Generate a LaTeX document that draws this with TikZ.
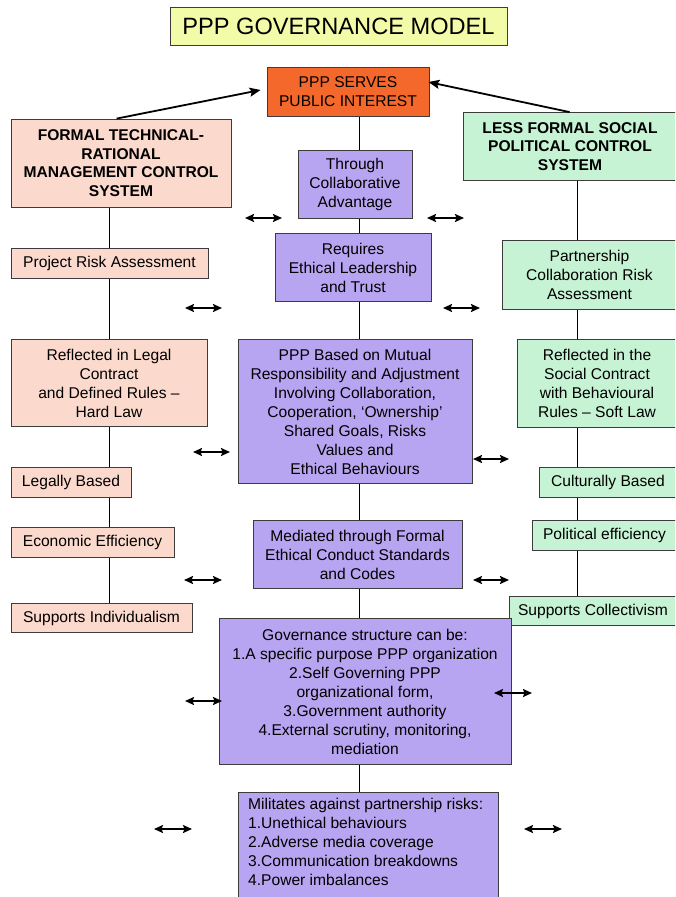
\documentclass[tikz,border=0pt]{standalone}
\usepackage{fontspec}
\setmainfont{Liberation Sans}
\usetikzlibrary{arrows.meta,backgrounds,calc}
\definecolor{ttlyellow}{HTML}{F2FBA8}
\definecolor{orangefill}{HTML}{F4692B}
\definecolor{pinkfill}{HTML}{FBDACD}
\definecolor{greenfill}{HTML}{C6F3D4}
\definecolor{purplefill}{HTML}{B8A5F1}
\definecolor{bordergray}{HTML}{3C3C3C}
\tikzset{
  box/.style={draw=bordergray, line width=0.8pt, inner sep=0pt, align=center,
    font=\fontsize{15.6}{19}\selectfont},
  boldbox/.style={box, font=\fontsize{15.6}{18.5}\selectfont\bfseries},
  pinkbox/.style={box, fill=pinkfill},
  greenbox/.style={box, fill=greenfill},
  purplebox/.style={box, fill=purplefill},
  conn/.style={line width=0.8pt, draw=black},
  dbl/.style={{Stealth[length=9pt,width=8pt,inset=1.5pt]}-{Stealth[length=9pt,width=8pt,inset=1.5pt]}, line width=1.8pt},
  sgl/.style={-{Stealth[length=11pt,width=9pt,inset=2pt]}, line width=1.8pt},
}
\begin{document}
\begin{tikzpicture}[x=1pt,y=-1pt]
\useasboundingbox (0,0) rectangle (675,897);
\clip (0,0) rectangle (675,897);

% title
\node[box, fill=ttlyellow, minimum width=337pt, minimum height=38pt,
  font=\fontsize{23.6}{28}\selectfont] (T) at (338.5,26) {PPP GOVERNANCE MODEL};
\node[box, fill=orangefill, minimum width=162pt, minimum height=49pt] (P) at (348,91.5) {PPP SERVES\\PUBLIC INTEREST};

% left column
\node[boldbox, fill=pinkfill, minimum width=220pt, minimum height=88pt] (L0) at (121,163) {FORMAL TECHNICAL-\\RATIONAL\\MANAGEMENT CONTROL\\SYSTEM};
\node[pinkbox, minimum width=197pt, minimum height=30pt] (L1) at (109.5,263.5) {Project Risk Assessment};
\node[pinkbox, minimum width=196pt, minimum height=87pt] (L2) at (109,383) {Reflected in Legal\\Contract\\and Defined Rules --\\Hard Law};
\node[pinkbox, minimum width=120pt, minimum height=30pt] (L3) at (71,482.5) {Legally Based};
\node[pinkbox, minimum width=163pt, minimum height=30pt] (L4) at (92.5,542.5) {Economic Efficiency};
\node[pinkbox, minimum width=181pt, minimum height=29pt] (L5) at (101.5,618) {Supports Individualism};

% right column
\node[boldbox, fill=greenfill, minimum width=214pt, minimum height=68pt] (R0) at (570,146.5) {LESS FORMAL SOCIAL\\POLITICAL CONTROL\\SYSTEM};
\node[greenbox, minimum width=175pt, minimum height=69pt] (R1) at (589.5,275) {Partnership\\Collaboration Risk\\Assessment};
\node[greenbox, minimum width=160pt, minimum height=88pt] (R2) at (597,383.5) {Reflected in the\\Social Contract\\with Behavioural\\Rules -- Soft Law};
\node[greenbox, minimum width=138pt, minimum height=30pt] (R3) at (608,482.5) {Culturally Based};
\node[greenbox, minimum width=145pt, minimum height=30pt] (R4) at (604.5,535.5) {Political efficiency};
\node[greenbox, minimum width=168pt, minimum height=29pt] (R5) at (593,611) {Supports Collectivism};

% centre column
\node[purplebox, minimum width=114pt, minimum height=68pt] (C1) at (355,184.5) {Through\\Collaborative\\Advantage};
\node[purplebox, minimum width=156pt, minimum height=68pt] (C2) at (353,267.5) {Requires\\Ethical Leadership\\and Trust};
\node[purplebox, minimum width=234pt, minimum height=144pt] (C3) at (355,411.5) {PPP Based on Mutual\\Responsibility and Adjustment\\Involving Collaboration,\\Cooperation, ‘Ownership’\\Shared Goals, Risks\\Values and\\Ethical Behaviours};
\node[purplebox, minimum width=209pt, minimum height=68pt] (C4) at (357.5,554.5) {Mediated through Formal\\Ethical Conduct Standards\\and Codes};
\node[purplebox, minimum width=292pt, minimum height=146pt] (C5) at (365,691.5) {Governance structure can be:\\1.A specific purpose PPP organization\\2.Self Governing PPP\\organizational form,\\3.Government authority\\4.External scrutiny, monitoring,\\mediation};
\node[purplebox, minimum width=260pt, minimum height=130pt, anchor=north west] (C6) at (238,792) {};
\node[inner sep=0pt, align=left, anchor=north west, font=\fontsize{15.6}{19}\selectfont] (C6t) at (248,798) {Militates against partnership risks:\\1.Unethical behaviours\\2.Adverse media coverage\\3.Communication breakdowns\\4.Power imbalances};

% connector lines behind boxes
\coordinate (lx) at (109,0);
\coordinate (rx) at (577,0);
\coordinate (cx) at (359,0);
\begin{scope}[on background layer]
  \fill[white] (0,0) rectangle (675,897);
  \draw[conn] (L0.south -| lx) -- (L5.north -| lx);
  \draw[conn] (R0.south -| rx) -- (R5.north -| rx);
  \draw[conn] (P.south -| cx) -- (C6.north -| cx);
\end{scope}

% arrows to top
\draw[sgl] ($(L0.north west)+(106,0)$) -- ($(P.west)+(-6,-1.5)$);
\draw[sgl] ($(R0.north west)+(107,0)$) -- ($(P.east)+(-1,-9.5)$);

% double arrows
\coordinate (a1s) at (245,218); \coordinate (a1e) at (282,218);
\coordinate (a2s) at (427,218); \coordinate (a2e) at (464,218);
\coordinate (a3s) at (185,308); \coordinate (a3e) at (222,308);
\coordinate (a4s) at (443,308); \coordinate (a4e) at (480,308);
\coordinate (a5s) at (193,452); \coordinate (a5e) at (230,452);
\coordinate (a6s) at (473,459); \coordinate (a6e) at (509,459);
\coordinate (a7s) at (184,580); \coordinate (a7e) at (222,580);
\coordinate (a8s) at (473,580); \coordinate (a8e) at (509,580);
\coordinate (a9s) at (185,701); \coordinate (a9e) at (222,701);
\coordinate (a10s) at (494,693); \coordinate (a10e) at (532,693);
\coordinate (a11s) at (154,829); \coordinate (a11e) at (192,829);
\coordinate (a12s) at (524,829); \coordinate (a12e) at (562,829);
\foreach \i in {1,...,12} { \draw[dbl] (a\i s) -- (a\i e); }
\end{tikzpicture}
\end{document}
